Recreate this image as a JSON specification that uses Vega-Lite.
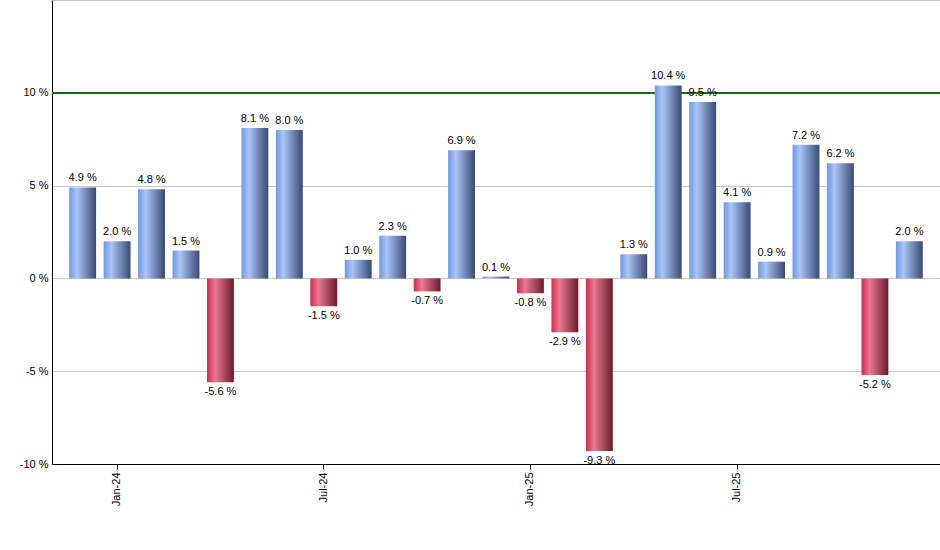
{
  "$schema": "https://vega.github.io/schema/vega-lite/v6.json",
  "width": 888,
  "height": 464,
  "autosize": {"type": "none"},
  "padding": {"left": 52, "top": 0, "right": 0, "bottom": 86},
  "background": "white",
  "config": {
    "view": {"stroke": null},
    "font": "Liberation Sans",
    "axis": {"labelFont": "Liberation Sans", "labelFontSize": 11, "labelColor": "#000000"}
  },
  "data": {
    "values": [
      {"month": "Dec-23", "ret": 4.9},
      {"month": "Jan-24", "ret": 2.0},
      {"month": "Feb-24", "ret": 4.8},
      {"month": "Mar-24", "ret": 1.5},
      {"month": "Apr-24", "ret": -5.6},
      {"month": "May-24", "ret": 8.1},
      {"month": "Jun-24", "ret": 8.0},
      {"month": "Jul-24", "ret": -1.5},
      {"month": "Aug-24", "ret": 1.0},
      {"month": "Sep-24", "ret": 2.3},
      {"month": "Oct-24", "ret": -0.7},
      {"month": "Nov-24", "ret": 6.9},
      {"month": "Dec-24", "ret": 0.1},
      {"month": "Jan-25", "ret": -0.8},
      {"month": "Feb-25", "ret": -2.9},
      {"month": "Mar-25", "ret": -9.3},
      {"month": "Apr-25", "ret": 1.3},
      {"month": "May-25", "ret": 10.4},
      {"month": "Jun-25", "ret": 9.5},
      {"month": "Jul-25", "ret": 4.1},
      {"month": "Aug-25", "ret": 0.9},
      {"month": "Sep-25", "ret": 7.2},
      {"month": "Oct-25", "ret": 6.2},
      {"month": "Nov-25", "ret": -5.2},
      {"month": "Dec-25", "ret": 2.0}
    ]
  },
  "transform": [
    {"calculate": "(datum.ret < 0 ? '-' : '') + format(abs(datum.ret), '.1f') + ' %'", "as": "label"}
  ],
  "encoding": {
    "x": {
      "field": "month",
      "type": "nominal",
      "sort": ["Dec-23", "Jan-24", "Feb-24", "Mar-24", "Apr-24", "May-24", "Jun-24", "Jul-24", "Aug-24", "Sep-24", "Oct-24", "Nov-24", "Dec-24", "Jan-25", "Feb-25", "Mar-25", "Apr-25", "May-25", "Jun-25", "Jul-25", "Aug-25", "Sep-25", "Oct-25", "Nov-25", "Dec-25"],
      "title": null,
      "scale": {"paddingInner": 0.22, "paddingOuter": 0.5},
      "axis": {
        "values": ["Jan-24", "Jul-24", "Jan-25", "Jul-25"],
        "labelAngle": 270,
        "labelAlign": "right",
        "labelBaseline": "middle",
        "labelPadding": 3,
        "tickColor": "#000000",
        "tickSize": 5,
        "domainColor": "#000000",
        "grid": false
      }
    },
    "y": {
      "field": "ret",
      "type": "quantitative",
      "title": null,
      "scale": {"domain": [-10, 15], "nice": false},
      "axis": {
        "values": [-10, -5, 0, 5, 10, 15],
        "labelExpr": "datum.value == 15 ? '' : datum.value + ' %'",
        "ticks": false,
        "labelPadding": 4,
        "domainColor": "#000000",
        "gridColor": "#c8c8c8"
      }
    }
  },
  "layer": [
    {
      "mark": {"type": "rule", "color": "#146c14", "strokeWidth": 1},
      "encoding": {"y": {"datum": 10}, "x": {"value": 0}, "x2": {"value": 888}}
    },
    {
      "transform": [{"filter": "datum.ret >= 0"}],
      "mark": {
        "type": "bar",
        "color": {
          "gradient": "linear",
          "x1": 0, "y1": 0, "x2": 1, "y2": 0,
          "stops": [
            {"offset": 0, "color": "#6e97e6"},
            {"offset": 0.28, "color": "#aac5f6"},
            {"offset": 1, "color": "#384a72"}
          ]
        }
      },
      "encoding": {"y2": {"datum": 0}}
    },
    {
      "transform": [{"filter": "datum.ret < 0"}],
      "mark": {
        "type": "bar",
        "color": {
          "gradient": "linear",
          "x1": 0, "y1": 0, "x2": 1, "y2": 0,
          "stops": [
            {"offset": 0, "color": "#d8264c"},
            {"offset": 0.3, "color": "#e87a90"},
            {"offset": 1, "color": "#6c1a2a"}
          ]
        }
      },
      "encoding": {"y2": {"datum": 0}}
    },
    {
      "transform": [{"filter": "datum.ret >= 0"}],
      "mark": {"type": "text", "baseline": "bottom", "dy": -4, "fontSize": 11, "color": "#000000"},
      "encoding": {"text": {"field": "label"}}
    },
    {
      "transform": [{"filter": "datum.ret < 0"}],
      "mark": {"type": "text", "baseline": "top", "dy": 4, "fontSize": 11, "color": "#000000"},
      "encoding": {"text": {"field": "label"}}
    }
  ]
}
